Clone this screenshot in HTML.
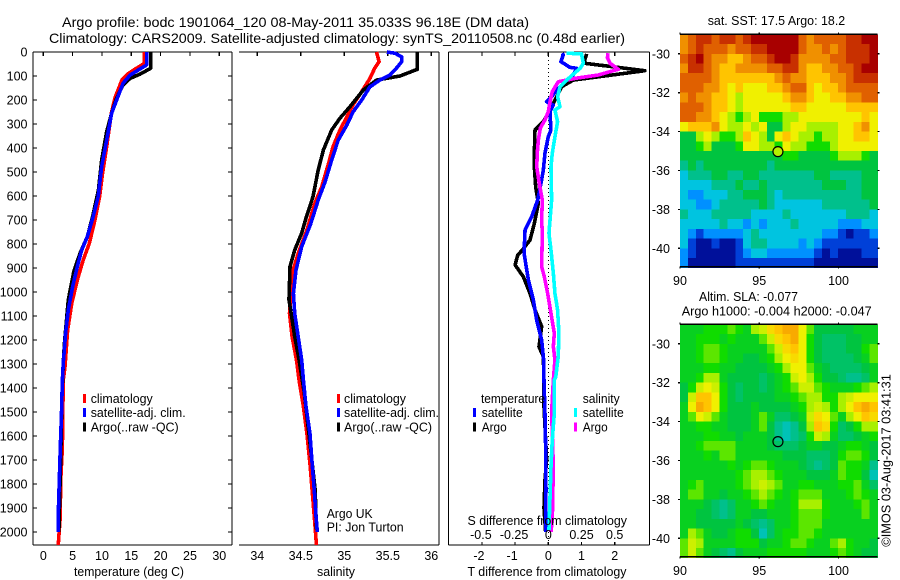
<!DOCTYPE html>
<html>
<head>
<meta charset="utf-8">
<title>Argo profile</title>
<style>
html,body{margin:0;padding:0;background:#fff;}
svg{display:block;}
text{font-family:"Liberation Sans",sans-serif;font-size:13px;fill:#000;}
</style>
</head>
<body>
<svg id="chart" width="900" height="580" viewBox="0 0 900 580">
<text x="62" y="27" style="font-size:14px" textLength="467" lengthAdjust="spacingAndGlyphs">Argo profile: bodc 1901064_120 08-May-2011 35.033S 96.18E (DM data)</text>
<text x="49" y="43" style="font-size:14px" textLength="576" lengthAdjust="spacingAndGlyphs">Climatology: CARS2009. Satellite-adjusted climatology: synTS_20110508.nc (0.48d earlier)</text>
<text x="74" y="576" textLength="110" lengthAdjust="spacingAndGlyphs">temperature (deg C)</text>
<text x="317" y="576" textLength="38" lengthAdjust="spacingAndGlyphs">salinity</text>
<text x="467.5" y="576" textLength="159" lengthAdjust="spacingAndGlyphs">T difference from climatology</text>
<text x="467.5" y="525" textLength="159.5" lengthAdjust="spacingAndGlyphs">S difference from climatology</text>
<text x="90.7" y="403" textLength="62" lengthAdjust="spacingAndGlyphs">climatology</text>
<text x="90.7" y="417" textLength="95" lengthAdjust="spacingAndGlyphs">satellite-adj. clim.</text>
<text x="90.7" y="431.5" textLength="88" lengthAdjust="spacingAndGlyphs">Argo(..raw -QC)</text>
<text x="344" y="403" textLength="62" lengthAdjust="spacingAndGlyphs">climatology</text>
<text x="344" y="417" textLength="95" lengthAdjust="spacingAndGlyphs">satellite-adj. clim.</text>
<text x="344" y="431.5" textLength="88" lengthAdjust="spacingAndGlyphs">Argo(..raw -QC)</text>
<text x="326.7" y="518" textLength="46" lengthAdjust="spacingAndGlyphs">Argo UK</text>
<text x="326.7" y="531.7" textLength="77" lengthAdjust="spacingAndGlyphs">PI: Jon Turton</text>
<text x="481" y="403" textLength="64" lengthAdjust="spacingAndGlyphs">temperature</text>
<text x="481.7" y="417" textLength="41" lengthAdjust="spacingAndGlyphs">satellite</text>
<text x="481.7" y="431.5" textLength="25" lengthAdjust="spacingAndGlyphs">Argo</text>
<text x="582.7" y="403" textLength="37" lengthAdjust="spacingAndGlyphs">salinity</text>
<text x="582.7" y="417" textLength="41" lengthAdjust="spacingAndGlyphs">satellite</text>
<text x="582.7" y="431.5" textLength="25" lengthAdjust="spacingAndGlyphs">Argo</text>
<text x="707.7" y="25" textLength="137.5" lengthAdjust="spacingAndGlyphs">sat. SST: 17.5 Argo: 18.2</text>
<text x="699" y="301" textLength="99" lengthAdjust="spacingAndGlyphs">Altim. SLA: -0.077</text>
<text x="681.7" y="315.7" textLength="190" lengthAdjust="spacingAndGlyphs">Argo h1000: -0.004 h2000: -0.047</text>
<text transform="translate(890.7,546.7) rotate(-90)" textLength="172.5" lengthAdjust="spacingAndGlyphs">©IMOS 03-Aug-2017 03:41:31</text>
</svg>
<script>
// Temperature panel
const tempClimDepth=[0,48,72,90,117,192,255,395,505,603,700,797,867,950,1047,1158,1311,1367,1547,1646,1770,1950,2054];
const tempClimValue=[17.2,17.2,15.6,14.5,13.4,12.2,11.6,10.8,10.1,9.6,8.8,7.85,6.8,5.8,4.85,4.15,3.7,3.4,3.3,3.25,3.0,2.85,2.55];
const tempSatDepth=[0,54,75,96,130,200,255,380,477,603,686,770,825,894,978,1075,1172,1297,1367,1506,1646,1783,1922,2000];
const tempSatValue=[17.6,17.6,16.2,14.8,13.6,12.5,11.65,10.7,9.95,9.35,8.5,7.5,6.55,5.8,5.0,4.26,3.8,3.4,3.25,3.1,2.9,2.73,2.56,2.56];
const tempArgoDepth=[0,68,92,110,137,192,255,332,450,575,686,770,839,915,1033,1214,1297,1450,1600,1800,2000];
const tempArgoValue=[18.3,18.3,16.5,14.8,13.6,12.5,11.65,10.8,9.95,9.4,8.4,7.5,6.25,5.2,4.26,3.6,3.4,3.15,3.05,2.85,2.65];
// Salinity panel
const salClimDepth=[0,40,67,110,165,220,270,325,395,463,562,631,742,839,922,1089,1186,1283,1367,1478,1589,1714,1825,1936,2054];
const salClimValue=[35.37,35.40,35.35,35.295,35.2,35.10,35.03,34.95,34.87,34.82,34.74,34.66,34.57,34.47,34.40,34.37,34.40,34.45,34.48,34.53,34.57,34.605,34.63,34.655,34.68];
const salSatDepth=[0,5,20,40,67,96,117,145,200,250,304,367,450,540,617,720,811,908,1006,1089,1186,1283,1367,1478,1589,1714,1825,1936,2000];
const salSatValue=[35.49,35.58,35.66,35.66,35.60,35.525,35.41,35.295,35.2,35.10,35.03,34.93,34.855,34.78,34.70,34.61,34.51,34.445,34.415,34.43,34.47,34.51,34.53,34.56,34.605,34.63,34.655,34.675,34.69];
const salArgoDepth=[0,72,100,117,158,228,276,325,408,492,603,692,755,825,894,1033,1103,1186,1283,1420,1660,1825,1990];
const salArgoValue=[35.84,35.84,35.64,35.37,35.22,35.065,34.95,34.855,34.76,34.70,34.64,34.56,34.51,34.43,34.376,34.364,34.395,34.43,34.48,34.54,34.615,34.665,34.68];
// Difference panel: temperature differences (deg C)
const dTempSatDepth=[5,12,40,64,68,96,124,158,186,207,221,249,325,353,422,492,547,617,686,742,839,950,1033,1117,1200,1283,1367,1506,1646,1825,2000];
const dTempSatValue=[.42,.45,.38,.65,.855,.75,.5,.25,.1,-.05,.15,.05,.08,0,-.1,-.15,-.22,-.32,-.5,-.7,-.73,-.6,-.45,-.35,-.2,-.14,-.13,-.1,-.08,-.07,-.08];
const dTempArgoDepth=[8,33,47,78,117,145,214,249,290,325,422,479,562,631,714,783,825,846,887,937,1006,1075,1144,1228,1269,1367,1450,1700,1783,1900,2000];
const dTempArgoValue=[1.156,1.1,1.1,2.91,.75,.4,.15,.03,-.15,-.4,-.42,-.42,-.38,-.3,-.42,-.55,-.78,-.92,-1.0,-.75,-.55,-.4,-.2,-.28,-.15,-.13,-.14,-.05,-.1,-.13,-.08];
// Difference panel: salinity differences (psu)
const dSalSatDepth=[5,8,47,68,82,117,145,186,228,242,290,353,422,479,617,700,755,825,922,1006,1075,1172,1269,1354,1367,1506,1617,1729,1854,1992];
const dSalSatValue=[.138,.25,.264,.24,.21,.138,.088,.07,.088,.05,.07,.05,.03,.02,.025,.013,.005,.02,.038,.05,.07,.08,.075,.056,.045,.045,.03,.02,.013,.005];
const dSalArgoDepth=[5,25,47,72,96,110,124,165,207,249,283,317,367,422,479,547,617,700,755,894,937,1006,1089,1172,1228,1283,1367,1500,1730,1950,2000];
const dSalArgoValue=[.45,.445,.465,.527,.375,.2,.075,.03,.013,0,-.025,-.06,-.075,-.083,-.087,-.068,-.045,-.05,-.045,-.05,-.03,-.005,.02,.045,.038,.05,.038,.025,.038,.03,.02];
// Tick labels
const depthTicks=[0,100,200,300,400,500,600,700,800,900,1000,1100,1200,1300,1400,1500,1600,1700,1800,1900,2000];
const tempTicks=[0,5,10,15,20,25,30];
const salTicks=[34,34.5,35,35.5,36];
const dTempTicks=[-2,-1,0,1,2];
const dSalTicks=[-0.5,-0.25,0,0.25,0.5];
const lonTicks=[90,95,100];
const latTicks=[30,32,34,36,38,40];
// SST map (deg C, rows north to south)
const sstGrid=[
[21,22,23,23,22,23,23,22,23,24,24,24,24,24,24,22,21,22,22,22,22,23,23,24,24],
[21,22,23,22,22,22,21,22,22,23,23,24,24,24,24,22,21,21,22,21,22,23,23,23,24],
[22,23,24,22,21,21,20,20,21,22,22,23,24,24,23,21,21,21,21,22,22,23,23,23,24],
[21,23,23,22,21,20,20,21,21,21,21,22,22,23,23,21,20,20,21,21,22,22,23,24,24],
[22,22,22,22,21,20,20,20,20,20,20,20,21,22,21,21,20,20,20,21,21,22,23,23,23],
[22,22,22,21,21,20,19,20,19,19,19,20,20,21,22,22,20,19,20,20,21,22,22,22,22],
[21,22,21,21,20,20,19,18,19,19,19,19,19,20,21,21,20,19,19,20,20,21,21,22,22],
[22,22,22,21,20,20,19,18,19,19,19,19,19,19,20,20,19,19,19,19,19,20,20,20,20],
[22,22,21,21,20,19,18,17,18,19,17,17,17,18,18,19,19,19,19,19,19,19,19,20,19],
[19,20,20,20,21,19,18,18,19,18,19,16,16,18,19,19,18,18,18,18,19,19,20,21,19],
[16,16,18,19,18,17,17,18,20,19,18,16,19,20,19,18,18,17,18,18,19,19,20,20,19],
[16,16,17,18,16,16,16,17,19,19,18,18,17,19,18,18,17,17,17,18,19,19,19,19,19],
[16,16,16,16,16,16,16,16,16,16,16,16,16,17,17,16,16,16,16,17,18,18,18,17,16],
[15,16,15,16,16,16,16,16,16,16,16,15,16,16,16,16,16,16,16,16,16,16,16,16,16],
[14,15,15,15,16,16,15,15,16,16,15,15,15,15,15,15,15,16,16,15,15,15,15,16,16],
[14,14,14,14,15,15,15,16,15,15,16,15,15,15,15,15,15,15,16,16,16,15,15,16,16],
[14,13,13,14,14,14,15,15,16,16,16,15,14,15,15,15,15,15,15,15,15,15,15,16,16],
[14,14,13,13,14,15,15,15,15,15,16,15,14,14,14,14,14,14,15,15,15,15,15,15,16],
[15,14,14,14,15,15,15,15,15,14,14,14,14,15,14,14,14,14,14,14,14,15,15,15,14],
[14,14,14,14,14,15,14,14,13,14,13,14,14,14,15,14,14,14,14,14,13,13,13,14,14],
[14,13,12,13,13,13,13,13,14,15,14,14,14,14,14,14,14,14,13,13,12,11,12,12,13],
[14,12,11,11,12,11,11,12,14,15,15,14,14,14,14,13,14,13,12,12,12,12,12,12,12],
[13,12,11,11,11,11,11,12,13,14,14,13,13,13,13,13,13,12,11,12,11,11,11,12,12],
[13,11,11,11,11,11,11,12,12,12,12,12,12,12,12,12,12,11,11,11,11,11,11,11,11]];
// SLA map (colour-scale level, rows north to south)
const slaGrid=[
[16.5,16.5,16.5,17,17,17,17.5,17,16.5,18,18.5,19.5,20,20.5,20.5,19,17.5,16,16,16,16,16,16.5,16.5,16.5],
[16.5,16.5,17,17,17,16.5,17,16.5,16.5,16.5,17.5,18.5,19.5,20,20.5,19,17,16,15.5,15.5,15.5,16,16,16.5,16.5],
[16.5,16.5,17,17.5,17.5,17,16.5,16.5,16.5,16.5,16.5,17.5,18.5,19.5,20,19,17,16,15.5,15.5,15.5,16,16,17,17.5],
[16.5,16.5,17,17.5,17.5,17,16.5,16.5,16,16,16.5,17,18,19,19.5,19,17,16,15.5,15.5,15.5,15.5,16,16.5,17.5],
[16.5,16.5,16.5,17,17,16.5,16.5,16,16,16,16,16.5,17,18,19,19,17.5,16.5,16,15.5,15.5,15.5,15.5,16,16.5],
[16.5,16.5,17,18,18,16.5,16,16,16,16,15.5,16,16.5,17,18.5,19,18,17,16,16,15.5,15,15,15.5,16.5],
[16,17,18.5,19,18.5,17,16,15.5,16,16,15.5,16,16.5,17,17.5,18.5,18.5,17.5,17,16.5,16.5,16.5,17,17.5,18],
[16,18.5,20,20,19,17,16,15.5,16,16,16,16,16.5,16.5,17,17.5,18,18,17,17,18,18.5,19,19,19],
[16.5,19,20.5,20,19,17,16,16,16,16.5,16,16,16,16,16.5,17,18,18.5,18,17,18,19,20,20.5,20],
[16.5,17.5,19,18.5,17.5,16.5,16,16,16,16.5,17.5,16.5,15.5,15.5,16,16.5,18.5,19.5,19,17.5,16.5,18,19,20,19.5],
[16.5,16.5,17,17,16.5,16.5,16,16,16,16.5,17.5,16,15,14.5,15,16,18,20,19.5,17,15.5,16,17,18,18],
[16.5,16.5,16.5,17,17,16.5,16.5,16,16.5,16.5,16.5,16,15,14.5,15,15.5,17,18.5,18,16.5,15.5,15.5,16,16.5,17],
[16.5,16.5,17,17.5,17.5,17.5,17.5,16.5,16.5,16.5,16.5,16,15.5,15.5,15.5,16,16.5,16.5,16,16,16.5,17,17,16.5,16],
[16.5,16.5,16.5,17,16.5,17.5,17.5,16.5,16.5,16.5,16.5,16.5,16.5,16,16,16,15.5,15.5,15.5,16,17,17.5,17.5,17,16],
[16.5,16.5,16.5,16.5,16.5,16.5,17,16.5,17,17.5,17.5,17,16.5,16.5,16.5,16,15.5,15,15.5,16,17.5,17,17,16.5,15],
[16.5,16.5,16.5,16.5,16.5,16.5,16.5,17,17.5,18,18,17.5,17,16.5,16.5,16.5,16,16,16,16.5,17.5,17,17,16,14.5],
[16.5,17,17.5,16.5,16.5,16.5,16.5,17,17.5,18,18.5,18,17.5,16.5,16.5,17,17,16.5,16.5,16.5,17,17,17.5,16.5,15.5],
[16.5,17.5,17.5,16.5,16.5,16,16.5,16.5,17,17.5,18,17.5,17,16.5,17,17.5,17.5,17.5,16.5,16.5,16.5,17,17.5,17,16.5],
[16.5,16.5,16.5,16,15.5,15,15.5,16.5,16.5,17,17.5,17,16.5,16.5,17,18,18,18,17,16.5,16.5,16.5,17,17.5,16.5],
[16.5,16.5,16,16,15.5,15,15.5,16.5,16.5,16,16,16.5,16.5,16.5,17,17.5,17.5,17.5,17,16.5,16.5,16.5,16.5,17.5,16.5],
[16.5,16.5,16,16,16,16,16,16.5,16,15.5,15,15.5,16.5,16.5,17,17.5,17.5,17.5,16.5,16.5,16.5,16.5,16.5,16.5,16.5],
[16.5,18,17.5,16.5,16,16,16.5,17,17,16,14.5,15.5,16.5,17,17,17.5,17.5,17,16.5,16.5,16.5,16.5,16.5,16.5,16.5],
[17.5,18.5,18,16.5,16.5,16.5,16.5,17,17,17,16,16.5,16.5,17,17.5,17.5,17,16.5,16.5,17.5,18,17,16.5,16.5,16],
[17.5,18.5,17.5,16.5,16,15.5,15,16,16.5,16.5,16.5,17,17,17,17,17,16.5,16.5,16.5,17,17.5,17,16.5,16,16]];
const argoLon=[96.18];
const argoLat=[35.033];

const NS='http://www.w3.org/2000/svg';
const svg=document.getElementById('chart');
function make(tag,attrs){const e=document.createElementNS(NS,tag);for(const k in attrs)e.setAttribute(k,attrs[k]);return e;}

// axis functions
const depthY=d=>52+0.24*d;
const tempX=t=>43.3+5.867*t;
const salX=s=>257.3+87*(s-34);
const dTempX=v=>548.3+33.2*v;
const dSalX=v=>548.3+132.8*v;
const lonX=l=>680+15.85*(l-90);
const mapTops=[34.3,324.3];
const latY=(lat,top)=>top+19.45*(lat-29);

// colour scale
const scaleStops=[[0,16,154],[0,64,216],[0,144,255],[0,196,224],[0,192,140],[0,196,64],[16,220,0],[168,240,0],[240,240,0],[255,196,0],[240,144,0],[224,96,0],[200,48,0],[168,0,0]];
function scaleColor(level){
  const f=Math.max(0,Math.min(13,level-11));
  const i=Math.min(12,Math.floor(f));
  const t=f-i;
  const a=scaleStops[i],b=scaleStops[i+1];
  return 'rgb('+a.map((v,j)=>Math.round(v+(b[j]-v)*t)).join(',')+')';
}

// heatmaps
function drawMap(grid,top,prefix){
  const g=make('g',{'shape-rendering':'crispEdges'});
  
  
  const rows=grid.length;
  const cols=grid[0].length;
  const lonStep=12.45/cols;
  const latStep=12/rows;
  grid.forEach((row,r)=>{
    row.forEach((value,c)=>{
      const x0=lonX(90+c*lonStep),x1=lonX(90+(c+1)*lonStep);
      const y0=latY(29+r*latStep,top),y1=latY(29+(r+1)*latStep,top);
      const cell=make('rect',{x:x0,y:y0,width:x1-x0+0.5,height:y1-y0+0.5,fill:scaleColor(value)});
      
      
      g.appendChild(cell);
    });
  });
  svg.appendChild(g);
}
drawMap(sstGrid,mapTops[0],'sst');
drawMap(slaGrid,mapTops[1],'sla');

// generic line & text helpers
function axisLine(x1,y1,x2,y2,name){
  const l=make('line',{x1:x1,y1:y1,x2:x2,y2:y2,stroke:'#000','stroke-width':1.2,'shape-rendering':'crispEdges'});
  
  
  svg.appendChild(l);
}
function tickLabel(x,y,value,anchor,name){
  const t=make('text',{x:x,y:y,'text-anchor':anchor,style:'font-size:12.5px'});
  t.textContent=String(value);
  
  
  svg.appendChild(t);
}

// frames
axisLine(33,52,33,545,'temp-axis-left');
axisLine(232,52,232,545,'temp-axis-right');
axisLine(33,52,232,52,'temp-axis-top');
axisLine(33,545,232,545,'temp-axis-bottom');
axisLine(439,52,439,545,'sal-axis-right');
axisLine(239,52,439,52,'sal-axis-top');
axisLine(239,545,439,545,'sal-axis-bottom');
axisLine(448.5,52,448.5,545,'diff-axis-left');
axisLine(649.5,52,649.5,545,'diff-axis-right');
axisLine(448.5,52,649.5,52,'diff-axis-top');
axisLine(448.5,545,649.5,545,'diff-axis-bottom');

// depth ticks
depthTicks.forEach(d=>{
  const y=depthY(d);
  axisLine(33,y,37,y,'depth-tick-left');
  axisLine(228,y,232,y,'depth-tick-right');
  tickLabel(27.5,y+4.5,d,'end','depth-tick-label');
});
tempTicks.forEach(t=>{
  axisLine(tempX(t),52,tempX(t),56,'temp-tick');
  tickLabel(tempX(t),560,t,'middle','temp-tick-label');
});
salTicks.forEach(s=>{
  axisLine(salX(s),52,salX(s),56,'sal-tick');
  tickLabel(salX(s),560,s,'middle','sal-tick-label');
});
dTempTicks.forEach(v=>{
  axisLine(dTempX(v),52,dTempX(v),56,'diff-tick');
  axisLine(dTempX(v),542,dTempX(v),545,'diff-tick-bottom');
  tickLabel(dTempX(v)-(v<0?3:0),560,v,'middle','t-diff-tick-label');
});
dSalTicks.forEach(v=>{
  tickLabel(dSalX(v)-(v<0?1:0),539,v,'middle','s-diff-tick-label');
});

// zero reference line
const zero=make('line',{x1:dTempX(0),y1:52,x2:dTempX(0),y2:545,stroke:'#000','stroke-width':1,'stroke-dasharray':'1 3','shape-rendering':'crispEdges'});


svg.appendChild(zero);

// profile curves
function drawCurve(values,depths,xf,color,name){
  const pts=values.map((v,i)=>xf(v).toFixed(2)+','+depthY(depths[i]).toFixed(2)).join(' ');
  const p=make('polyline',{points:pts,fill:'none',stroke:color,'stroke-width':3.6,'stroke-linejoin':'round','shape-rendering':'crispEdges'});
  
  
  svg.appendChild(p);
}
drawCurve(tempClimValue,tempClimDepth,tempX,'#ff0000','temperature-climatology-line');
drawCurve(tempArgoValue,tempArgoDepth,tempX,'#000000','temperature-argo-line');
drawCurve(tempSatValue,tempSatDepth,tempX,'#0000ff','temperature-satellite-line');
drawCurve(salClimValue,salClimDepth,salX,'#ff0000','salinity-climatology-line');
drawCurve(salArgoValue,salArgoDepth,salX,'#000000','salinity-argo-line');
drawCurve(salSatValue,salSatDepth,salX,'#0000ff','salinity-satellite-line');
drawCurve(dTempArgoValue,dTempArgoDepth,dTempX,'#000000','t-difference-argo-line');
drawCurve(dTempSatValue,dTempSatDepth,dTempX,'#0000ff','t-difference-satellite-line');
drawCurve(dSalArgoValue,dSalArgoDepth,dSalX,'#ff00ff','s-difference-argo-line');
drawCurve(dSalSatValue,dSalSatDepth,dSalX,'#00ffff','s-difference-satellite-line');

// legend swatches
const swatchX=[84.3,338.3,474.3,575.7];
const swatchRowY=[394,408,422.5];
function swatch(x,y,color,name){
  const r=make('rect',{x:x-1.5,y:y,width:3,height:9,fill:color,'shape-rendering':'crispEdges'});
  
  
  svg.appendChild(r);
}
swatch(swatchX[0],swatchRowY[0],'#ff0000','temp-legend-swatch-climatology');
swatch(swatchX[0],swatchRowY[1],'#0000ff','temp-legend-swatch-satellite');
swatch(swatchX[0],swatchRowY[2],'#000000','temp-legend-swatch-argo');
swatch(swatchX[1],swatchRowY[0],'#ff0000','sal-legend-swatch-climatology');
swatch(swatchX[1],swatchRowY[1],'#0000ff','sal-legend-swatch-satellite');
swatch(swatchX[1],swatchRowY[2],'#000000','sal-legend-swatch-argo');
swatch(swatchX[2],swatchRowY[1],'#0000ff','diff-legend-swatch-t-satellite');
swatch(swatchX[2],swatchRowY[2],'#000000','diff-legend-swatch-t-argo');
swatch(swatchX[3],swatchRowY[1],'#00ffff','diff-legend-swatch-s-satellite');
swatch(swatchX[3],swatchRowY[2],'#ff00ff','diff-legend-swatch-s-argo');

// map axes, ticks and markers
mapTops.forEach((top,i)=>{
  const bottom=top+232.4;
  const right=lonX(102.45);
  axisLine(680,top,right,top,'map-axis-top');
  axisLine(680,bottom,right,bottom,'map-axis-bottom');
  lonTicks.forEach(l=>{
    axisLine(lonX(l),top-2,lonX(l),top,'map-lon-tick-top');
    axisLine(lonX(l),bottom,lonX(l),bottom+2,'map-lon-tick-bottom');
    tickLabel(lonX(l),bottom+18.5,l,'middle','map-lon-label');
  });
  latTicks.forEach(a=>{
    const y=latY(a,top);
    axisLine(678,y,680,y,'map-lat-tick-left');
    axisLine(right,y,right+2,y,'map-lat-tick-right');
    tickLabel(670,y+4.5,'-'+a,'end','map-lat-label');
  });
  const m=make('circle',{cx:lonX(argoLon[0]),cy:latY(argoLat[0],top),r:5,fill:i===0?'#b4f000':'none',stroke:'#000','stroke-width':1.2});
  
  
  svg.appendChild(m);
});

// all text sits above the profile curves
svg.querySelectorAll('text').forEach(t=>svg.appendChild(t));
</script>
</body>
</html>
